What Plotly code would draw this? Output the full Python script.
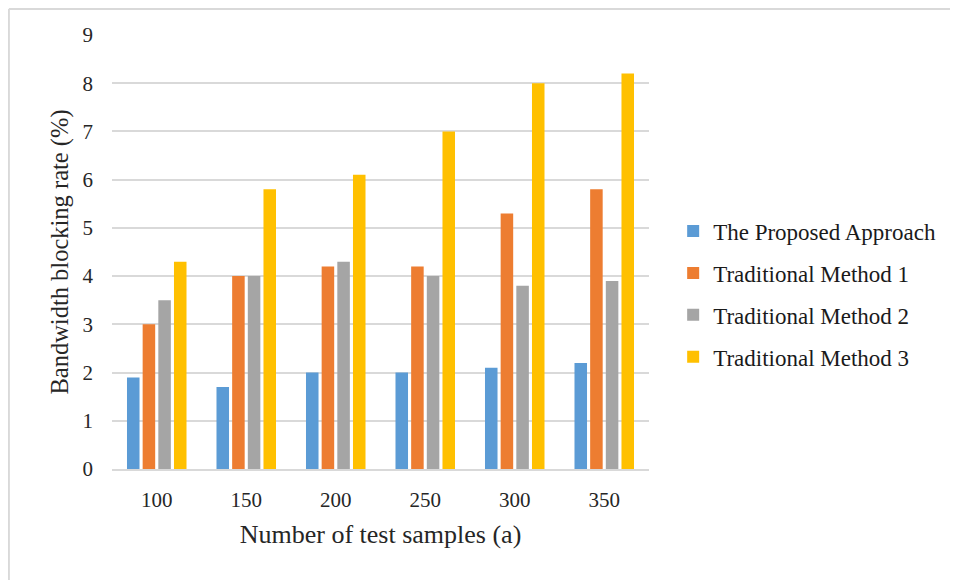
import plotly.graph_objects as go

# data
samples = ["100", "150", "200", "250", "300", "350"]
proposed = [1.9, 1.7, 2.0, 2.0, 2.1, 2.2]
method1 = [3.0, 4.0, 4.2, 4.2, 5.3, 5.8]
method2 = [3.5, 4.0, 4.3, 4.0, 3.8, 3.9]
method3 = [4.3, 5.8, 6.1, 7.0, 8.0, 8.2]

series = [
    ("The Proposed Approach", proposed, "#5b9bd5"),
    ("Traditional Method 1", method1, "#ed7d31"),
    ("Traditional Method 2", method2, "#a5a5a5"),
    ("Traditional Method 3", method3, "#ffc000"),
]

font_family = "Liberation Serif"

fig = go.Figure()
for i, (name, vals, col) in enumerate(series):
    fig.add_trace(go.Bar(
        x=samples, y=vals, name=name,
        marker_color=col, marker_line_width=0,
        legendgroup="g%d" % i,
    ))

# the page puts the figure 8px in from the window corner
fig.update_layout(
    width=950, height=572,
    paper_bgcolor="white", plot_bgcolor="white",
    margin=dict(l=104, r=309, t=27, b=111),
    barmode="group", bargap=0.3, bargroupgap=0.2,
    font=dict(family=font_family, color="#262626", size=21),
    legend=dict(
        x=1.045, y=0.403, xanchor="left", yanchor="middle",
        font=dict(size=23, family=font_family, color="#1a1a1a"),
        tracegroupgap=9, itemwidth=30,
    ),
    showlegend=True,
)

fig.update_yaxes(
    range=[0, 9], dtick=1,
    showgrid=True, gridcolor="#d9d9d9", gridwidth=1.5,
    zeroline=False, showline=False,
    ticks="", ticklabelstandoff=18,
    tickfont=dict(size=21),
    title=dict(text="Bandwidth blocking rate (%)", font=dict(size=24.5), standoff=6),
)
fig.update_xaxes(
    showline=True, linecolor="#d9d9d9", linewidth=1.5,
    ticks="", ticklabelstandoff=11,
    tickfont=dict(size=21),
    title=dict(text="Number of test samples (a)", font=dict(size=26), standoff=14),
)

# light frame on the left and top edges, like the original picture
fig.add_shape(type="line", xref="paper", yref="paper",
              x0=-0.192, x1=1.58, y0=1.06, y1=1.06,
              line=dict(color="#d9d9d9", width=2))
fig.add_shape(type="line", xref="paper", yref="paper",
              x0=-0.192, x1=-0.192, y0=-0.26, y1=1.06,
              line=dict(color="#d9d9d9", width=2))

fig.write_html("out.html")
